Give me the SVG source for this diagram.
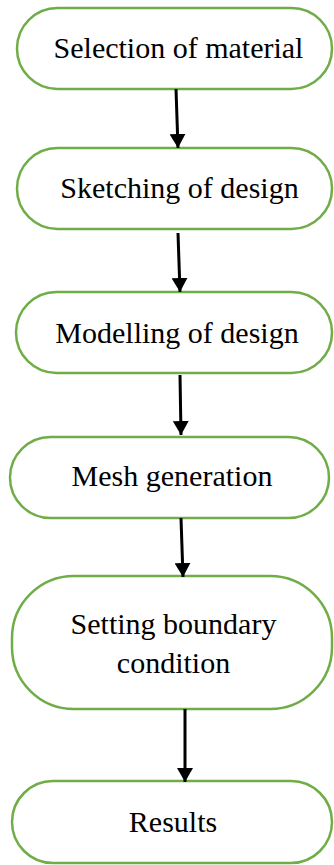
<svg xmlns="http://www.w3.org/2000/svg" width="334" height="865" viewBox="0 0 334 865">
  <style>
    .box { fill: #ffffff; stroke: #70AD47; stroke-width: 2.5; }
    .lbl { font-family: "Liberation Serif", "Times New Roman", serif; font-size: 30px; fill: #000000; text-anchor: middle; }
    .arrow { stroke: #000000; stroke-width: 3; fill: none; }
  </style>
  <defs>
    <!-- filled triangular arrowhead, tip at the line end -->
    <marker id="head" markerUnits="userSpaceOnUse" markerWidth="14" markerHeight="16" viewBox="0 0 14 16" refX="14" refY="8" orient="auto">
      <polygon points="0,0 14,8 0,16" fill="#000000"/>
    </marker>
  </defs>
  <rect width="334" height="865" fill="#ffffff"/>

  <g id="n1">
    <rect class="box" x="17" y="8" width="315" height="81" rx="40.5" ry="40.5"/>
    <text class="lbl" x="178.5" y="58">Selection of material</text>
  </g>
  <g id="n2">
    <rect class="box" x="17" y="148" width="315" height="81" rx="40.5" ry="40.5"/>
    <text class="lbl" x="179.5" y="198">Sketching of design</text>
  </g>
  <g id="n3">
    <rect class="box" x="16" y="292" width="316" height="81" rx="40.5" ry="40.5"/>
    <text class="lbl" x="177" y="343">Modelling of design</text>
  </g>
  <g id="n4">
    <rect class="box" x="10" y="437" width="319" height="81" rx="40.5" ry="40.5"/>
    <text class="lbl" x="172" y="486">Mesh generation</text>
  </g>
  <g id="n5">
    <rect class="box" x="12" y="576" width="320" height="133" rx="62" ry="62"/>
    <text class="lbl" x="173.5" y="634">Setting boundary</text>
    <text class="lbl" x="173.5" y="673">condition</text>
  </g>
  <g id="n6">
    <rect class="box" x="12" y="781" width="320" height="82" rx="41" ry="41"/>
    <text class="lbl" x="173" y="832">Results</text>
  </g>

  <g id="connectors">
    <line class="arrow" x1="176" y1="89" x2="178" y2="148" marker-end="url(#head)"/>
    <line class="arrow" x1="178" y1="233" x2="180" y2="292" marker-end="url(#head)"/>
    <line class="arrow" x1="180" y1="375" x2="181" y2="435" marker-end="url(#head)"/>
    <line class="arrow" x1="181" y1="518" x2="183" y2="577" marker-end="url(#head)"/>
    <line class="arrow" x1="185" y1="709" x2="185" y2="782" marker-end="url(#head)"/>
  </g>
</svg>
